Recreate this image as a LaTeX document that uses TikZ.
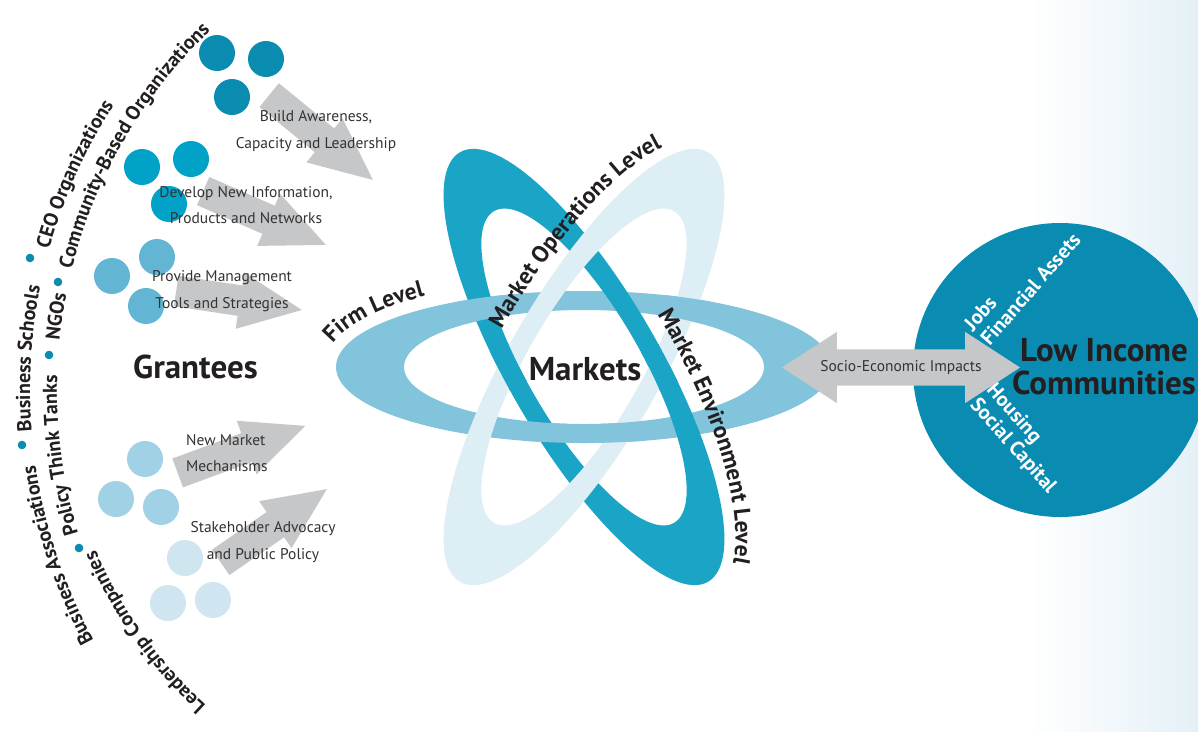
\documentclass[tikz,border=0pt]{standalone}
\usepackage{fontspec}
\setmainfont{PT Sans}
\usetikzlibrary{shapes.arrows, decorations.text}

\definecolor{dotA}{HTML}{0A8BB0}
\definecolor{dotB}{HTML}{00A2C7}
\definecolor{dotC}{HTML}{62B6D4}
\definecolor{dotD}{HTML}{A1D1E5}
\definecolor{dotE}{HTML}{CFE6F1}
\definecolor{hblue}{HTML}{83C4DD}
\definecolor{dblue}{HTML}{1AA4C5}
\definecolor{lblue}{HTML}{DDEEF5}
\definecolor{commblue}{HTML}{0A8CB2}
\definecolor{arrowgrey}{HTML}{C6C7C9}
\definecolor{txtdark}{HTML}{231F20}
\definecolor{txtgrey}{HTML}{333333}
\definecolor{bgblue}{HTML}{E4F0F7}

\newcommand\ringfont{\bfseries\fontsize{23.5}{23.5}\selectfont}
\newcommand\arcfont{\bfseries\fontsize{20}{20}\selectfont}
\newcommand\atomring[2]{%
  \fill[#1, even odd rule, rotate around={#2:(ctr)}]
    (ctr) ellipse [x radius=248pt, y radius=76pt]
    (ctr) ellipse [x radius=180pt, y radius=57pt];}

\tikzset{
  grantee/.style = {circle, inner sep=0pt, minimum size=36pt},
  bulletdot/.style = {circle, fill=dotA, inner sep=0pt, minimum size=8.6pt},
  greyarrow/.style = {single arrow, fill=arrowgrey, inner sep=0pt, sloped,
    pos=0, anchor=tail, text height=15pt, text depth=15pt,
    minimum width=57pt, single arrow head extend=13pt, single arrow tip angle=49},
  lbl/.style = {font=\fontsize{15.5}{26.5}\selectfont, text=txtgrey, align=center, inner sep=0pt},
  bigtext/.style = {font=\bfseries\fontsize{33}{33}\selectfont, text=txtdark, inner sep=0pt},
  commtext/.style = {font=\bfseries\fontsize{20.5}{22}\selectfont, text=white, align=left, inner sep=0pt},
  ringtext/.style = {decorate, decoration={text along path, text color=txtdark,
    text={|\ringfont|#1}}},
  arctext/.style = {decorate, decoration={text along path, text color=txtdark,
    text={|\arcfont|#1}}},
}

\begin{document}
\begin{tikzpicture}[x=1pt, y=-1pt]
  \useasboundingbox (0,0) rectangle (1198,731);
  \clip (0,0) rectangle (1198,731);
  \fill[white] (0,0) rectangle (1198,731);
  \shade[left color=white, right color=bgblue] (1030,0) rectangle (1198,731);

  % the three market rings
  \coordinate (ctr) at (584,367);
  \atomring{hblue}{0}
  \atomring{dblue}{-60}
  \atomring{lblue}{60}
  \begin{scope}
    \clip (481,306) circle [radius=24pt] (545,432) circle [radius=24pt]
          (687,306) circle [radius=24pt] (623,432) circle [radius=24pt];
    \atomring{hblue}{0}
  \end{scope}
  \begin{scope}
    \clip (508,367) circle [radius=24pt] (660,367) circle [radius=24pt];
    \atomring{dblue}{-60}
  \end{scope}

  \path[ringtext={Firm Level}] (ctr) ++(165:260pt and 90pt)
    arc [start angle=165, end angle=100, x radius=260pt, y radius=90pt];
  \begin{scope}[rotate around={60:(ctr)}]
    \path[ringtext={Market Operations Level}] (ctr) ++(92:260pt and 90pt)
      arc [start angle=92, end angle=-10, x radius=260pt, y radius=90pt];
  \end{scope}
  \begin{scope}[rotate around={-60:(ctr)}]
    \path[ringtext={Market Environment Level}] (ctr) ++(92:260pt and 90pt)
      arc [start angle=92, end angle=-10, x radius=260pt, y radius=90pt];
  \end{scope}
  \node[bigtext, anchor=base] (markets) at (585,380) {Markets};

  % communities
  \node[circle, fill=commblue, minimum size=294pt, inner sep=0pt] (comm) at (1060,370) {};
  \node[bigtext, align=center] (lowinc) at (1104,367) {Low Income\\Communities};
  \node[commtext, rotate=49, anchor=south west] (jobs) at (990,347) {Jobs\\Financial Assets};
  \node[commtext, rotate=-48.5, anchor=south west] (housing) at (966,408) {Housing\\Social Capital};

  \node[double arrow, fill=arrowgrey, inner sep=0pt, text height=18pt, text depth=18pt,
    minimum height=238pt, minimum width=71pt,
    double arrow head extend=17.5pt, double arrow tip angle=66] (impact) at (901,367.5) {};
  \node[lbl] (impactlbl) at (impact.center) {Socio-Economic Impacts};

  % grantee activities
  \coordinate (t1) at (269,95);    \coordinate (h1) at (373,180);
  \coordinate (t2) at (203,191);   \coordinate (h2) at (326,245);
  \coordinate (t3) at (176,291);   \coordinate (h3) at (302,310);
  \coordinate (t4) at (177.5,473); \coordinate (h4) at (305,426);
  \coordinate (t5) at (220.5,562.5); \coordinate (h5) at (327,489);
  \path (t1) -- node[greyarrow, minimum height=134pt] (ar1) {} (h1);
  \path (t2) -- node[greyarrow, minimum height=134pt] (ar2) {} (h2);
  \path (t3) -- node[greyarrow, minimum height=127pt] (ar3) {} (h3);
  \path (t4) -- node[greyarrow, minimum height=136pt] (ar4) {} (h4);
  \path (t5) -- node[greyarrow, minimum height=129pt] (ar5) {} (h5);

  \foreach \x/\y [count=\i] in {217/53, 266/59, 232/97}
    \node[grantee, fill=dotA] (ga\i) at (\x,\y) {};
  \foreach \x/\y [count=\i] in {142/167, 191/159, 169/204}
    \node[grantee, fill=dotB] (gb\i) at (\x,\y) {};
  \foreach \x/\y [count=\i] in {112/276, 157/257, 146/306}
    \node[grantee, fill=dotC] (gc\i) at (\x,\y) {};
  \foreach \x/\y [count=\i] in {145/459, 116/499, 161/507}
    \node[grantee, fill=dotD] (gd\i) at (\x,\y) {};
  \foreach \x/\y [count=\i] in {185/558, 168/603, 213/600}
    \node[grantee, fill=dotE] (ge\i) at (\x,\y) {};

  \node[lbl] (build) at (316,131) {Build Awareness,\\Capacity and Leadership};
  \node[lbl] (develop) at (246,205) {Develop New Information,\\Products and Networks};
  \node[lbl] (provide) at (222,291) {Provide Management\\Tools and Strategies};
  \node[lbl, align=left, anchor=west] (newmkt) at (186,453) {New Market\\Mechanisms};
  \node[lbl] (advocacy) at (263,542) {Stakeholder Advocacy\\and Public Policy};
  \node[bigtext, anchor=base] (grantees) at (195.5,378) {Grantees};

  % kinds of grantees round the arc
  \coordinate (arcc) at (555,390);
  \coordinate (arcb) at (515,369);
  \path[arctext={Leadership Companies}] (arcb) ++(227.5:457pt) arc [start angle=227.5, end angle=195, radius=457pt];
  \path[arctext={Policy Think Tanks}] (arcc) ++(196.8:498pt) arc [start angle=196.8, end angle=170, radius=498pt];
  \path[arctext={NGOs}] (arcc) ++(174.3:498pt) arc [start angle=174.3, end angle=160, radius=498pt];
  \path[arctext={Community-Based Organizations}] (arcc) ++(166:498pt) arc [start angle=166, end angle=120, radius=498pt];
  \path[arctext={Business Associations}] (arcc) ++(208.5:525pt) arc [start angle=208.5, end angle=180, radius=525pt];
  \path[arctext={Business Schools}] (arcc) ++(184.5:525pt) arc [start angle=184.5, end angle=160, radius=525pt];
  \path[arctext={CEO Organizations}] (arcc) ++(164.5:525pt) arc [start angle=164.5, end angle=135, radius=525pt];
  \foreach \x/\y [count=\i] in {58/282, 49/355, 79/548, 22/445, 30/258}
    \node[bulletdot] (bd\i) at (\x,\y) {};
\end{tikzpicture}
\end{document}
